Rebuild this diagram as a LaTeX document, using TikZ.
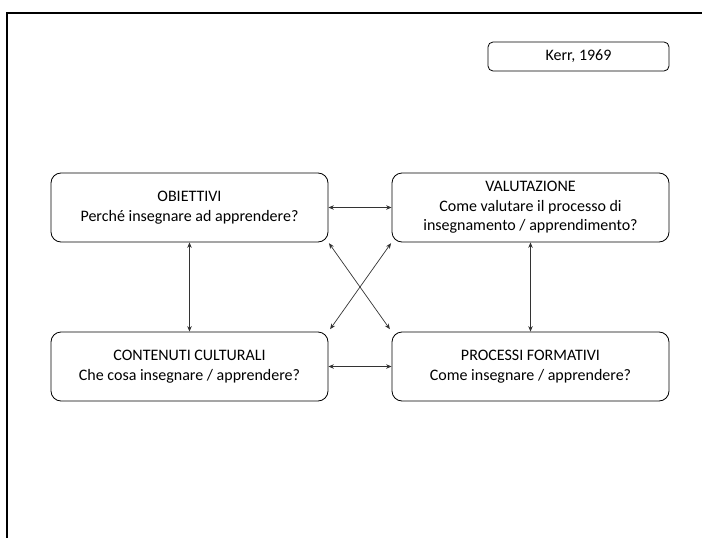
\documentclass[tikz,border=0pt]{standalone}
\usepackage{fontspec}
\setmainfont{Carlito}
\usetikzlibrary{arrows.meta}
\begin{document}
\begin{tikzpicture}[x=1pt,y=-1pt,
  box/.style={draw=black,line width=0.8pt,rounded corners=10pt,minimum width=277pt,minimum height=69pt,align=center,font=\fontsize{16}{19.5}\selectfont,inner sep=2pt},
  kbox/.style={draw=black,line width=0.8pt,rounded corners=5pt,minimum width=181pt,minimum height=29pt,font=\fontsize{16}{19}\selectfont},
  link/.style={draw=black!80,line width=0.7pt,{Stealth[length=5.5pt,width=4.5pt]}-{Stealth[length=5.5pt,width=4.5pt]}},
  edge/.style={draw=black,line width=1.2pt}]
\useasboundingbox (0,0) rectangle (702,538);
\draw[edge] (702,13) -- (7,13) -- (7,538);
\node[kbox] (kerr) at (578.5,56.5) {Kerr, 1969};
\node[box] (ob) at (189.5,207.5) {OBIETTIVI\\Perché insegnare ad apprendere?};
\node[box] (va) at (530.5,207.5) {VALUTAZIONE\\Come valutare il processo di\\insegnamento / apprendimento?};
\node[box] (cc) at (189.5,366.5) {CONTENUTI CULTURALI\\Che cosa insegnare / apprendere?};
\node[box] (pf) at (530.5,366.5) {PROCESSI FORMATIVI\\Come insegnare / apprendere?};
\draw[link] (ob.east) -- (va.west);
\draw[link] (cc.east) -- (pf.west);
\draw[link] (ob.south) -- (cc.north);
\draw[link] (va.south) -- (pf.north);
\draw[link,shorten <=1pt,shorten >=3pt] (ob.south east) -- (pf.north west);
\draw[link,shorten <=1pt,shorten >=3pt] (va.south west) -- (cc.north east);
\end{tikzpicture}
\end{document}
